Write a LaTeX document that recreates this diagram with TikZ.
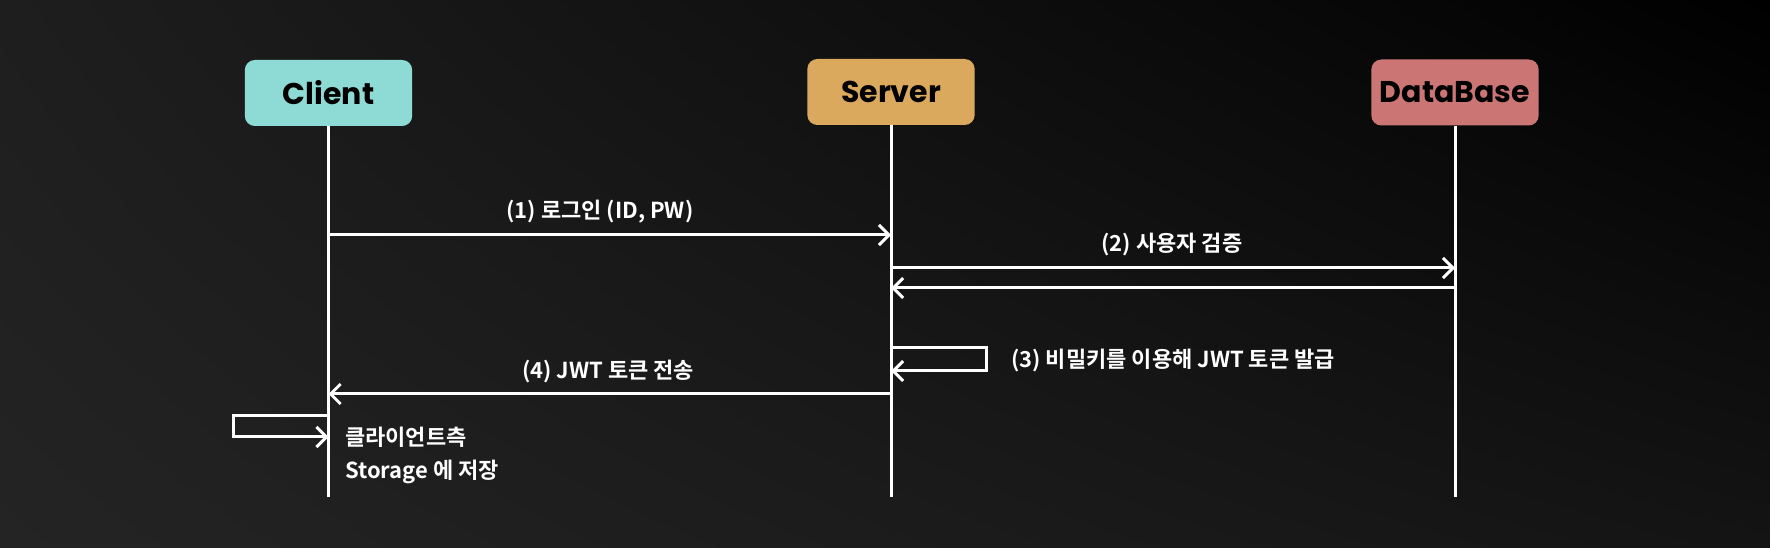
\documentclass[tikz,border=0pt]{standalone}
\usepackage{fontspec}
\usetikzlibrary{arrows.meta,shadings}
\newfontfamily\hdrfont{Poppins}
\newfontfamily\krfont{Noto Sans CJK KR}[BoldFont={Noto Sans CJK KR Bold}]
\definecolor{bgA}{HTML}{242424}
\definecolor{bgB}{HTML}{1E1E1E}
\definecolor{bgC}{HTML}{000000}
\definecolor{bgD}{HTML}{141414}
\definecolor{clientc}{HTML}{8DDBD4}
\definecolor{serverc}{HTML}{DBA95E}
\definecolor{dbc}{HTML}{CB7674}
\tikzset{
  actor/.style={rounded corners=7.5pt, minimum width=125.5pt, minimum height=49.5pt,
    inner sep=0pt, text=black, font=\hdrfont\bfseries\fontsize{22.5}{26}\selectfont},
  life/.style={white, line width=2.25pt},
  msg/.style={white, line width=2.25pt, -{Straight Barb[length=7.5pt,width=15pt]}},
  lbl/.style={text=white, inner sep=0pt, font=\krfont\bfseries\fontsize{16.5}{20}\selectfont}
}
\begin{document}
\begin{tikzpicture}[x=0.75pt,y=-0.75pt]
\useasboundingbox (0,0) rectangle (1770,548);
\shade[upper left=bgB, upper right=bgC, lower left=bgA, lower right=bgD] (0,0) rectangle (1770,548);
% actors
\node[actor, fill=clientc] (cl) at (328.5,93) {Client};
\node[actor, fill=serverc] (sv) at (891,92) {Server};
\node[actor, fill=dbc] (db) at (1455,92.5) {DataBase};
% lifeline ends
\coordinate (clb) at (328.5,497);
\coordinate (svb) at (891,497);
\coordinate (dbb) at (1455,497);
\draw[life] (cl.south) -- (clb);
\draw[life] (sv.south) -- (svb);
\draw[life] (db.south) -- (dbb);
% message points
\coordinate (c1) at (328.5,235);
\coordinate (s1) at (891,235);
\coordinate (s2) at (891,268);
\coordinate (d2) at (1455,268);
\coordinate (d3) at (1455,288);
\coordinate (s3) at (891,288);
\coordinate (s4a) at (891,348);
\coordinate (s4b) at (891,371);
\coordinate (s5) at (891,394);
\coordinate (c5) at (328.5,394);
\coordinate (c6a) at (328.5,416);
\coordinate (c6b) at (328.5,437);
\draw[msg] (c1) -- (s1);
\draw[msg] (s2) -- (d2);
\draw[msg] (d3) -- (s3);
\draw[msg] (s4a) -- ++(95,0) |- (s4b);
\draw[msg] (s5) -- (c5);
\draw[msg] (c6a) -- ++(-95,0) |- (c6b);
% labels
\node[lbl] (t1) at (600,212) {(1) 로그인 (ID, PW)};
\node[lbl] (t2) at (1172,245) {(2) 사용자 검증};
\node[lbl, anchor=west] (t3) at (1011,360) {(3) 비밀키를 이용해 JWT 토큰 발급};
\node[lbl] (t4) at (608,372) {(4) JWT 토큰 전송};
\node[lbl, anchor=west] (t5) at (345,437) {클라이언트측};
\node[lbl, anchor=west] (t6) at (345,472) {Storage 에 저장};
\end{tikzpicture}
\end{document}
